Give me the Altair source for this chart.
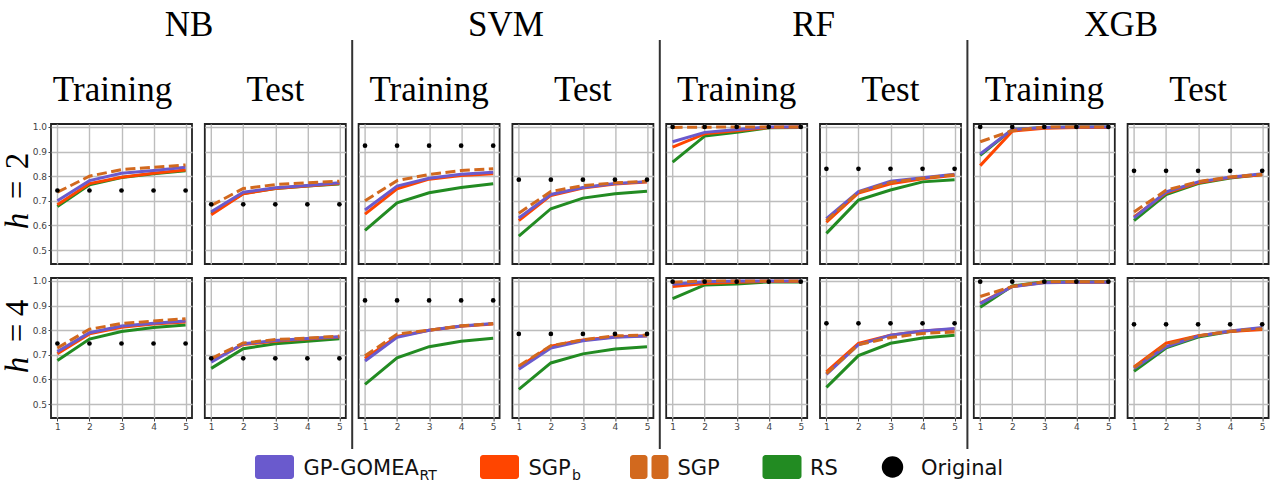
import altair as alt
import pandas as pd

STEPS = [1, 2, 3, 4, 5]
Y_TICKS = [0.5, 0.6, 0.7, 0.8, 0.9, 1.0]
CLASSIFIERS = ["NB", "SVM", "RF", "XGB"]
SPLITS = ["Training", "Test"]
DEPTHS = [2, 4]
DRAW_ORDER = ["RS", "SGP_b", "GP-GOMEA_RT", "SGP"]
SERIES_COLORS = ["#228b22", "#ff4500", "#6a5acd", "#d2691e"]
LEGEND_LABELS = ["GP-GOMEA", "SGP", "SGP", "RS", "Original"]
LEGEND_SUBS = ["RT", "b"]

NB_TRAINING_H2 = {
    "GP-GOMEA_RT": [0.700, 0.782, 0.812, 0.823, 0.836],
    "SGP_b": [0.684, 0.770, 0.796, 0.812, 0.825],
    "SGP": [0.735, 0.800, 0.827, 0.836, 0.846],
    "RS": [0.677, 0.765, 0.795, 0.810, 0.822],
    "Original": [0.742, 0.742, 0.742, 0.742, 0.742],
}
NB_TEST_H2 = {
    "GP-GOMEA_RT": [0.656, 0.735, 0.753, 0.762, 0.773],
    "SGP_b": [0.643, 0.729, 0.750, 0.760, 0.770],
    "SGP": [0.681, 0.750, 0.766, 0.773, 0.780],
    "RS": [0.650, 0.730, 0.750, 0.760, 0.768],
    "Original": [0.686, 0.686, 0.686, 0.686, 0.686],
}
NB_TRAINING_H4 = {
    "GP-GOMEA_RT": [0.713, 0.790, 0.817, 0.828, 0.837],
    "SGP_b": [0.705, 0.785, 0.812, 0.825, 0.833],
    "SGP": [0.728, 0.804, 0.827, 0.837, 0.847],
    "RS": [0.677, 0.764, 0.795, 0.811, 0.821],
    "Original": [0.746, 0.746, 0.746, 0.746, 0.746],
}
NB_TEST_H4 = {
    "GP-GOMEA_RT": [0.670, 0.745, 0.758, 0.766, 0.773],
    "SGP_b": [0.675, 0.742, 0.755, 0.764, 0.772],
    "SGP": [0.685, 0.748, 0.762, 0.768, 0.776],
    "RS": [0.645, 0.725, 0.745, 0.755, 0.765],
    "Original": [0.686, 0.686, 0.686, 0.686, 0.686],
}
SVM_TRAINING_H2 = {
    "GP-GOMEA_RT": [0.663, 0.760, 0.792, 0.808, 0.816],
    "SGP_b": [0.646, 0.749, 0.788, 0.803, 0.810],
    "SGP": [0.700, 0.782, 0.807, 0.823, 0.830],
    "RS": [0.580, 0.692, 0.733, 0.754, 0.769],
    "Original": [0.924, 0.924, 0.924, 0.924, 0.924],
}
SVM_TEST_H2 = {
    "GP-GOMEA_RT": [0.630, 0.726, 0.754, 0.770, 0.778],
    "SGP_b": [0.620, 0.722, 0.752, 0.768, 0.776],
    "SGP": [0.650, 0.738, 0.762, 0.773, 0.780],
    "RS": [0.557, 0.668, 0.711, 0.729, 0.739],
    "Original": [0.786, 0.786, 0.786, 0.786, 0.786],
}
SVM_TRAINING_H4 = {
    "GP-GOMEA_RT": [0.675, 0.771, 0.800, 0.817, 0.827],
    "SGP_b": [0.685, 0.775, 0.800, 0.816, 0.825],
    "SGP": [0.696, 0.784, 0.800, 0.818, 0.827],
    "RS": [0.580, 0.688, 0.733, 0.755, 0.767],
    "Original": [0.921, 0.921, 0.921, 0.921, 0.921],
}
SVM_TEST_H4 = {
    "GP-GOMEA_RT": [0.641, 0.728, 0.757, 0.771, 0.776],
    "SGP_b": [0.651, 0.735, 0.760, 0.773, 0.777],
    "SGP": [0.655, 0.737, 0.761, 0.777, 0.780],
    "RS": [0.560, 0.667, 0.704, 0.724, 0.733],
    "Original": [0.785, 0.785, 0.785, 0.785, 0.785],
}
RF_TRAINING_H2 = {
    "GP-GOMEA_RT": [0.940, 0.978, 0.990, 1.000, 1.000],
    "SGP_b": [0.918, 0.972, 0.985, 0.998, 1.000],
    "SGP": [0.998, 0.999, 1.000, 1.000, 1.000],
    "RS": [0.857, 0.963, 0.978, 0.997, 0.998],
    "Original": [1.000, 1.000, 1.000, 1.000, 1.000],
}
RF_TEST_H2 = {
    "GP-GOMEA_RT": [0.628, 0.738, 0.780, 0.794, 0.808],
    "SGP_b": [0.613, 0.732, 0.769, 0.790, 0.804],
    "SGP": [0.620, 0.735, 0.775, 0.792, 0.806],
    "RS": [0.568, 0.703, 0.744, 0.777, 0.786],
    "Original": [0.830, 0.830, 0.830, 0.830, 0.830],
}
RF_TRAINING_H4 = {
    "GP-GOMEA_RT": [0.987, 0.997, 1.000, 1.000, 1.000],
    "SGP_b": [0.977, 0.990, 0.995, 0.998, 0.998],
    "SGP": [0.995, 1.000, 1.000, 1.000, 1.000],
    "RS": [0.928, 0.984, 0.988, 0.996, 0.996],
    "Original": [0.997, 0.997, 0.997, 0.997, 0.997],
}
RF_TEST_H4 = {
    "GP-GOMEA_RT": [0.621, 0.741, 0.780, 0.797, 0.807],
    "SGP_b": [0.631, 0.747, 0.780, 0.797, 0.805],
    "SGP": [0.624, 0.741, 0.770, 0.787, 0.793],
    "RS": [0.568, 0.697, 0.747, 0.768, 0.780],
    "Original": [0.828, 0.828, 0.828, 0.828, 0.828],
}
XGB_TRAINING_H2 = {
    "GP-GOMEA_RT": [0.890, 0.990, 0.998, 1.000, 1.000],
    "SGP_b": [0.843, 0.983, 0.995, 0.998, 0.998],
    "SGP": [0.940, 0.985, 1.000, 1.000, 1.000],
    "RS": [0.885, 0.990, 0.998, 1.000, 1.000],
    "Original": [1.000, 1.000, 1.000, 1.000, 1.000],
}
XGB_TEST_H2 = {
    "GP-GOMEA_RT": [0.631, 0.736, 0.777, 0.796, 0.810],
    "SGP_b": [0.635, 0.732, 0.773, 0.795, 0.806],
    "SGP": [0.655, 0.743, 0.778, 0.797, 0.808],
    "RS": [0.620, 0.725, 0.770, 0.793, 0.807],
    "Original": [0.822, 0.822, 0.822, 0.822, 0.822],
}
XGB_TRAINING_H4 = {
    "GP-GOMEA_RT": [0.908, 0.977, 0.993, 0.995, 0.995],
    "SGP_b": [0.910, 0.978, 0.994, 0.995, 0.995],
    "SGP": [0.937, 0.977, 0.997, 0.997, 0.997],
    "RS": [0.893, 0.980, 0.997, 0.997, 0.997],
    "Original": [0.997, 0.997, 0.997, 0.997, 0.997],
}
XGB_TEST_H4 = {
    "GP-GOMEA_RT": [0.644, 0.733, 0.776, 0.797, 0.811],
    "SGP_b": [0.651, 0.747, 0.778, 0.795, 0.803],
    "SGP": [0.648, 0.742, 0.777, 0.796, 0.806],
    "RS": [0.633, 0.728, 0.772, 0.795, 0.808],
    "Original": [0.824, 0.824, 0.824, 0.824, 0.824],
}

DATA = {
    ("NB", "Training", 2): NB_TRAINING_H2, ("NB", "Test", 2): NB_TEST_H2,
    ("NB", "Training", 4): NB_TRAINING_H4, ("NB", "Test", 4): NB_TEST_H4,
    ("SVM", "Training", 2): SVM_TRAINING_H2, ("SVM", "Test", 2): SVM_TEST_H2,
    ("SVM", "Training", 4): SVM_TRAINING_H4, ("SVM", "Test", 4): SVM_TEST_H4,
    ("RF", "Training", 2): RF_TRAINING_H2, ("RF", "Test", 2): RF_TEST_H2,
    ("RF", "Training", 4): RF_TRAINING_H4, ("RF", "Test", 4): RF_TEST_H4,
    ("XGB", "Training", 2): XGB_TRAINING_H2, ("XGB", "Test", 2): XGB_TEST_H2,
    ("XGB", "Training", 4): XGB_TRAINING_H4, ("XGB", "Test", 4): XGB_TEST_H4,
}

W, H = 141, 140
GAP_X, GAP_Y = 12.8, 14
SERIF = "Liberation Serif"
SANS = "DejaVu Sans"

color_scale = alt.Scale(domain=DRAW_ORDER, range=SERIES_COLORS)


def x_enc(show):
    return alt.X(
        "step:Q",
        scale=alt.Scale(domain=[0.8, 5.2], nice=False, zero=False),
        axis=alt.Axis(values=STEPS, format="d", grid=True, domain=False, title=None,
                      labels=show, ticks=show, tickSize=3, tickColor="#444", tickWidth=1,
                      labelFont=SANS, labelFontSize=9, labelColor="#444", labelPadding=1,
                      gridColor="#bdbdbd", gridWidth=1.4),
    )


def y_enc(show):
    return alt.Y(
        "value:Q",
        scale=alt.Scale(domain=[0.4435, 1.012], nice=False, zero=False),
        axis=alt.Axis(values=Y_TICKS, format=".1f", grid=True, domain=False, title=None,
                      labels=show, ticks=show, tickSize=3, tickColor="#444", tickWidth=1,
                      labelFont=SANS, labelFontSize=9, labelColor="#444", labelPadding=1.5,
                      gridColor="#bdbdbd", gridWidth=1.4),
    )


def txt(text, x, y, size, font=SERIF, align="center", baseline="alphabetic",
        angle=None, style="normal", color="black"):
    kw = dict(font=font, fontSize=size, align=align, baseline=baseline,
              color=color, fontStyle=style)
    if angle is not None:
        kw["angle"] = angle
    return alt.Chart(pd.DataFrame({"t": [text]})).mark_text(**kw).encode(
        text="t:N", x=alt.value(x), y=alt.value(y))


def swatch(key, x1, x2, y1, y2, color):
    return alt.Chart(pd.DataFrame({"k": [key]})).mark_rect(color=color, cornerRadius=3).encode(
        x=alt.value(x1), x2=alt.value(x2), y=alt.value(y1), y2=alt.value(y2))


def legend_layers():
    # positions relative to the bottom-left panel (legend row below the grid)
    yt, yb = 177, 201
    base = 197
    sub = 202
    fs, sfs = 21, 14
    ink = "#111"
    L = []
    L.append(swatch("g", 204, 243, yt, yb, "#6a5acd"))
    L.append(txt(LEGEND_LABELS[0], 252.5, base, fs, font=SANS, align="left", color=ink))
    L.append(txt(LEGEND_SUBS[0], 368.5, sub, sfs, font=SANS, align="left", color=ink))
    L.append(swatch("b", 429, 468, yt, yb, "#ff4500"))
    L.append(txt(LEGEND_LABELS[1], 477.5, base, fs, font=SANS, align="left", color=ink))
    L.append(txt(LEGEND_SUBS[1], 521, sub, sfs, font=SANS, align="left", color=ink))
    L.append(swatch("s1", 579, 596.5, yt, yb, "#d2691e"))
    L.append(swatch("s2", 600.5, 617.5, yt, yb, "#d2691e"))
    L.append(txt(LEGEND_LABELS[2], 626.5, base, fs, font=SANS, align="left", color=ink))
    L.append(swatch("r", 711.5, 750.5, yt, yb, "#228b22"))
    L.append(txt(LEGEND_LABELS[3], 759, base, fs, font=SANS, align="left", color=ink))
    L.append(alt.Chart(pd.DataFrame({"k": ["o"]})).mark_circle(color="black", opacity=1, size=460).encode(
        x=alt.value(841.5), y=alt.value(189)))
    L.append(txt(LEGEND_LABELS[4], 870, base, fs, font=SANS, align="left", color=ink))
    return L


def make_panel(r, c):
    clf = CLASSIFIERS[c // 2]
    split = SPLITS[c % 2]
    h = DEPTHS[r]
    vals = DATA[(clf, split, h)]
    show_x = r == 1
    show_y = c == 0
    xe, ye = x_enc(show_x), y_enc(show_y)
    layers = []
    for s in DRAW_ORDER:
        df = pd.DataFrame({"step": STEPS, "value": vals[s], "series": s})
        mk = dict(strokeWidth=3, clip=False)
        if s == "SGP":
            mk["strokeDash"] = [10, 4.5]
        layers.append(alt.Chart(df).mark_line(**mk).encode(
            x=xe, y=ye, color=alt.Color("series:N", scale=color_scale, legend=None)))
    dfo = pd.DataFrame({"step": STEPS, "value": vals["Original"]})
    layers.append(alt.Chart(dfo).mark_circle(color="black", size=22, opacity=1).encode(x=xe, y=ye))

    if r == 0:
        tx = 61.5 if c == 0 else W / 2
        layers.append(txt(split, tx, -23, 35))
        if c % 2 == 0:
            gx = 138 if c == 0 else W + GAP_X / 2
            layers.append(txt(clf, gx, -88, 35))
        elif c < 7:
            layers.append(alt.Chart(pd.DataFrame({"k": ["sep"]})).mark_rule(color="#333", strokeWidth=2).encode(
                x=alt.value(W + GAP_X / 2), y=alt.value(-84), y2=alt.value(325)))
    if c == 0:
        if r == 0:
            hy, ey, dy = 97, 66, 37
        else:
            hy, ey, dy = 87, 55, 30
        layers.append(txt("h", -23.5, hy, 33, angle=270, style="italic"))
        layers.append(txt("=", -23.5, ey, 33, angle=270))
        layers.append(txt(str(h), -23.5, dy, 33, angle=270))
        if r == 0:
            layers.append(alt.Chart(pd.DataFrame({"k": ["a"]})).mark_point(opacity=0, size=1).encode(
                x=alt.value(-48.5), y=alt.value(-122)))
        else:
            layers.extend(legend_layers())
    return alt.layer(*layers).properties(width=W, height=H)


panels = [make_panel(r, c) for r in range(2) for c in range(8)]

chart = alt.concat(
    *panels, columns=8, spacing={"row": GAP_Y, "column": GAP_X}, bounds="flush"
).properties(padding=0, background="white").configure_view(stroke="#222", strokeWidth=1.8)

chart.save("out.html", embed_options={"renderer": "svg", "actions": False})
